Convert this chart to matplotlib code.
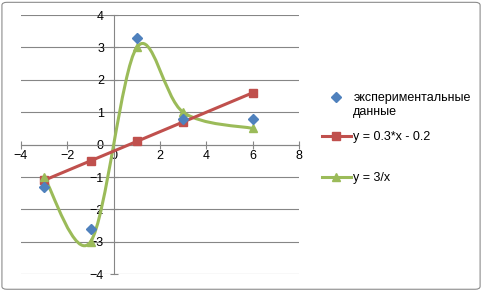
import numpy as np
import matplotlib.pyplot as plt
from matplotlib.path import Path
from matplotlib.patches import PathPatch, FancyBboxPatch
from matplotlib.lines import Line2D
from matplotlib.legend_handler import HandlerLine2D

plt.rcParams['font.family'] = ['Liberation Sans', 'DejaVu Sans']

x = [-3, -1, 1, 3, 6]
y_exp = [-1.3, -2.6, 3.3, 0.8, 0.8]
y_lin = [-1.1, -0.5, 0.1, 0.7, 1.6]
y_inv = [-1, -3, 3, 1, 0.5]
labels = ['экспериментальные\nданные', 'y = 0.3*x - 0.2', 'y = 3/x']

blue = '#4F81BD'
red = '#C0504D'
green = '#9BBB59'


def smooth_path(xs, ys):
    # excel-like smoothing: bezier segments, control points from neighbours
    p = np.column_stack([xs, ys]).astype(float)
    n = len(p)
    verts = [p[0]]
    codes = [Path.MOVETO]
    for i in range(n - 1):
        p0 = p[i - 1] if i > 0 else p[i]
        p3 = p[i + 2] if i + 2 < n else p[i + 1]
        c1 = p[i] + (p[i + 1] - p0) / 6.0
        c2 = p[i + 1] - (p3 - p[i]) / 6.0
        verts += [c1, c2, p[i + 1]]
        codes += [Path.CURVE4] * 3
    return Path(verts, codes)


class TopHandler(HandlerLine2D):
    # put the marker on the first line of a two-line label
    def create_artists(self, legend, orig_handle, xdescent, ydescent, width, height, fontsize, trans):
        arts = super().create_artists(legend, orig_handle, xdescent, ydescent, width, height, fontsize, trans)
        for a in arts:
            a.set_ydata(np.asarray(a.get_ydata()) + 5.8)
        return arts


fig = plt.figure(figsize=(4.83, 2.91), dpi=100)
fig.add_artist(FancyBboxPatch((0.004, 0.006), 0.99, 0.986, boxstyle='round,pad=0,rounding_size=0.01',
                              transform=fig.transFigure, fc='none', ec='#8c8c8c', lw=0.8))
ax = fig.add_axes([21 / 483, (291 - 274.3) / 291, 278 / 483, 259.3 / 291])

ax.set_xlim(-4, 8)
ax.set_ylim(-4, 4)
ax.set_xticks(np.arange(-4, 9, 2))
ax.set_yticks(np.arange(-4, 5, 1))
ax.yaxis.grid(True, color='#868686', lw=0.8)
ax.set_axisbelow(True)

for s in ['top', 'right']:
    ax.spines[s].set_visible(False)
ax.spines['left'].set_position(('data', 0))
ax.spines['bottom'].set_position(('data', 0))
ax.spines['left'].set_color('#868686')
ax.spines['bottom'].set_color('#868686')
ax.spines['left'].set_linewidth(0.8)
ax.spines['bottom'].set_linewidth(0.8)
ax.tick_params(axis='x', direction='inout', length=6, width=0.8, color='#868686', labelsize=9, pad=1)
ax.tick_params(axis='y', direction='inout', length=6, width=0.8, color='#868686', labelsize=9, pad=4)

ax.add_patch(PathPatch(smooth_path(x, y_inv), fc='none', ec=green, lw=2.2, zorder=3))
ax.plot(x, y_inv, ls='none', marker='^', ms=6, color=green, zorder=4)
ax.plot(x, y_lin, color=red, lw=2.2, marker='s', ms=6, zorder=3)
ax.plot(x, y_exp, ls='none', marker='D', ms=5, color=blue, zorder=5)

handles = [
    Line2D([], [], ls='none', marker='D', ms=5, color=blue),
    Line2D([], [], color=red, lw=2.2, marker='s', ms=6),
    Line2D([], [], color=green, lw=2.2, marker='^', ms=6),
]
# legend entries placed one by one, like the excel layout
centers = [105, 137, 178]
for h, lab, yc in zip(handles, labels, centers):
    hm = {h: TopHandler()} if '\n' in lab else None
    fig.legend([h], [lab], loc='center left', bbox_to_anchor=(322 / 483, 1 - yc / 291),
               frameon=False, fontsize=9, handlelength=2.3, handletextpad=0.2,
               borderpad=0, borderaxespad=0, labelspacing=0.1, handler_map=hm)

fig.savefig('out.png', dpi=100)
